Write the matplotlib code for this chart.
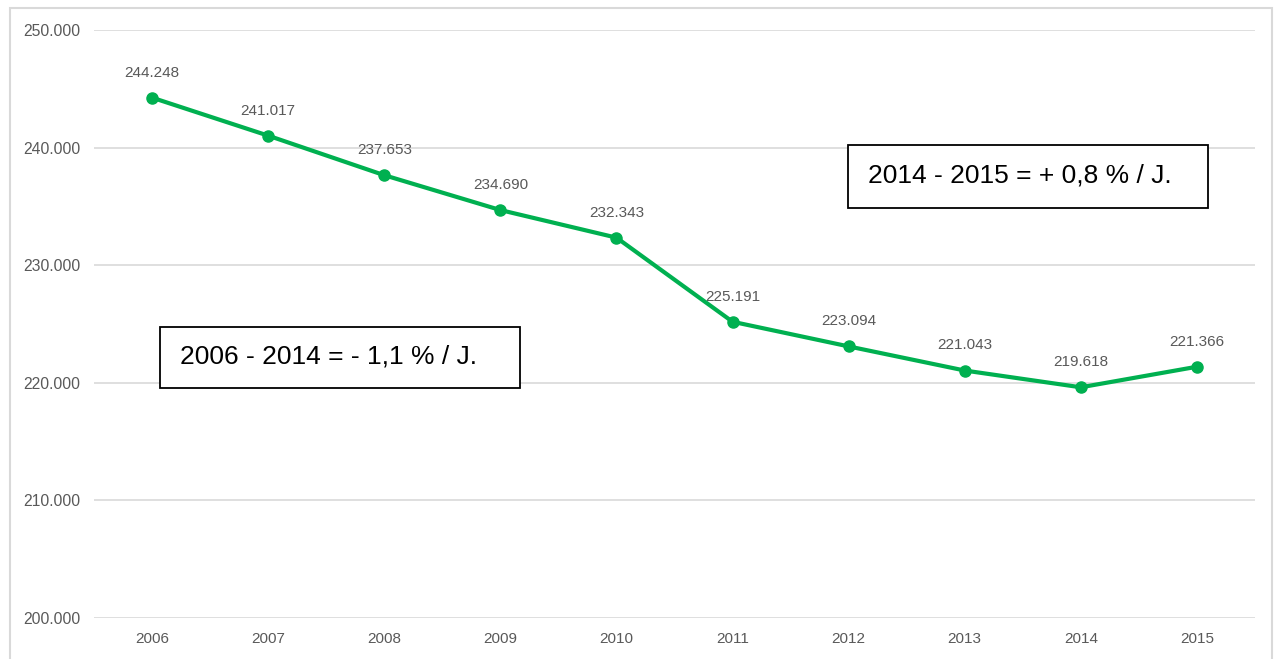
import matplotlib.pyplot as plt
from matplotlib.patches import Rectangle

years = ['2006', '2007', '2008', '2009', '2010', '2011', '2012', '2013', '2014', '2015']
values = [244248, 241017, 237653, 234690, 232343, 225191, 223094, 221043, 219618, 221366]
y_ticks = [200000, 210000, 220000, 230000, 240000, 250000]

def fmt(v):
    return f'{v:,}'.replace(',', '.')

plt.rcParams['font.family'] = ['Liberation Sans', 'DejaVu Sans']

fig = plt.figure(figsize=(12.78, 6.59), dpi=100)
# outer chart border
fig.patches.append(Rectangle((10 / 1278, -0.01), 1262 / 1278, 1 - 8 / 659 + 0.01,
                             transform=fig.transFigure, fill=False,
                             edgecolor='#D9D9D9', linewidth=1.5))

ax = fig.add_axes([94 / 1278, 1 - 618 / 659, (1255 - 94) / 1278, (618 - 30) / 659])
x = list(range(len(years)))
ax.plot(x, values, color='#00B050', linewidth=3, marker='o', markersize=8,
        solid_capstyle='round', zorder=3)

for xi, v in zip(x, values):
    ax.annotate(fmt(v), (xi, v), xytext=(0, 13), textcoords='offset points',
                ha='center', va='bottom', fontsize=11, color='#595959')

ax.set_xlim(-0.5, len(years) - 0.5)
ax.set_ylim(200000, 250000)
ax.set_yticks(y_ticks)
ax.set_yticklabels([fmt(t) for t in y_ticks], fontsize=11.3, color='#595959')
ax.set_xticks(x)
ax.set_xticklabels(years, fontsize=11, color='#595959')
ax.tick_params(axis='x', length=0, pad=10)
ax.tick_params(axis='y', length=0, pad=10)
ax.grid(axis='y', color='#D9D9D9', linewidth=1.2)
ax.set_axisbelow(True)
for s in ax.spines.values():
    s.set_visible(False)

# annotation boxes
fig.patches.append(Rectangle((160 / 1278, 1 - 388 / 659), 360 / 1278, 61 / 659,
                             transform=fig.transFigure, fill=True, facecolor='white',
                             edgecolor='black', linewidth=1.3, zorder=5))
fig.text(180 / 1278, 1 - 357 / 659, '2006 - 2014 = - 1,1 % / J.', fontsize=19,
         va='center', ha='left', color='black', zorder=6)

fig.patches.append(Rectangle((848 / 1278, 1 - 208 / 659), 360 / 1278, 63 / 659,
                             transform=fig.transFigure, fill=True, facecolor='white',
                             edgecolor='black', linewidth=1.3, zorder=5))
fig.text(868 / 1278, 1 - 176 / 659, '2014 - 2015 = + 0,8 % / J.', fontsize=19,
         va='center', ha='left', color='black', zorder=6)

fig.savefig('out.png', dpi=100)
